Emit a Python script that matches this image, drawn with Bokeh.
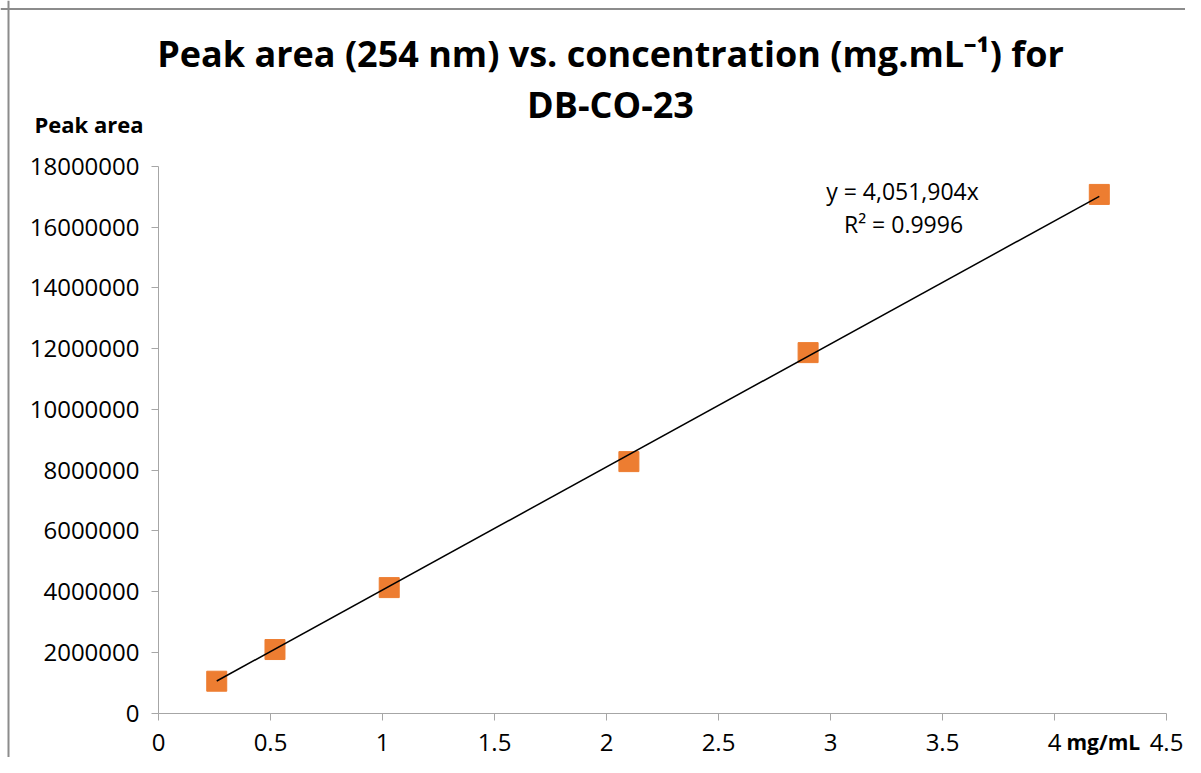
from bokeh.plotting import figure
from bokeh.models import Label, Range1d, FixedTicker, Span
from bokeh.embed import file_html
from bokeh.resources import INLINE

# data
conc = [0.26, 0.52, 1.03, 2.1, 2.9, 4.2]
area = [1047000, 2090000, 4130000, 8280000, 11870000, 17080000]
slope = 4051904
x_ticks = [0, 0.5, 1, 1.5, 2, 2.5, 3, 3.5, 4, 4.5]
y_ticks = [0, 2000000, 4000000, 6000000, 8000000, 10000000, 12000000, 14000000, 16000000, 18000000]
title1 = "Peak area (254 nm) vs. concentration (mg.mL\u207b\u00b9) for"
title2 = "DB-CO-23"
eq1 = "y = 4,051,904x"
eq2 = "R\u00b2 = 0.9996"

FONT = "Open Sans"
AXC = "#a6a6a6"

# layout in canvas pixels
W, H = 1185, 757
PX_L, PX_R = 158, 1166      # x = 0 and x = 4.5
PX_B, PX_T = 712.5, 166     # y = 0 and y = 18e6
XMIN, XMAX = x_ticks[0], x_ticks[-1]
YMIN, YMAX = y_ticks[0], y_ticks[-1]
sx = (PX_R - PX_L) / (XMAX - XMIN)
sy = (PX_B - PX_T) / (YMAX - YMIN)
x_range = Range1d(XMIN - PX_L / sx, XMAX + (W - PX_R) / sx)
y_range = Range1d(YMIN - (H - PX_B) / sy, YMAX + PX_T / sy)

p = figure(width=W, height=H, output_backend="svg", toolbar_location=None,
           x_range=x_range, y_range=y_range,
           min_border_left=0, min_border_right=0, min_border_top=0, min_border_bottom=0)
p.outline_line_color = None
p.xgrid.visible = False
p.ygrid.visible = False

# chart-area border (top and left edges visible in the reference)
p.add_layout(Span(location=YMIN + (PX_B - 8.5) / sy, dimension="width",
                  line_color="#8c8c8c", line_width=2))
p.add_layout(Span(location=XMIN + (8 - PX_L) / sx, dimension="height",
                  line_color="#8c8c8c", line_width=2))

for ax in (p.xaxis[0], p.yaxis[0]):
    ax.fixed_location = 0
    ax.axis_line_color = AXC
    ax.major_tick_line_color = AXC
    ax.minor_tick_line_color = None
    ax.major_tick_in = 0
    ax.major_tick_out = 7
    ax.major_label_text_font = FONT
    ax.major_label_text_font_size = "24px"
    ax.major_label_text_color = "#000000"

p.xaxis[0].bounds = (XMIN, XMAX)
p.yaxis[0].bounds = (YMIN, YMAX)
p.xaxis[0].ticker = FixedTicker(ticks=x_ticks)
p.yaxis[0].ticker = FixedTicker(ticks=y_ticks)
p.xaxis[0].major_label_standoff = 14
p.yaxis[0].major_label_standoff = 12
p.yaxis[0].formatter.use_scientific = False
p.xaxis[0].major_label_overrides = {0: "0", 1: "1", 2: "2", 3: "3", 4: "4"}

# trend line through origin, over data span
x0, x1 = min(conc), max(conc)
p.scatter(conc, area, marker="square", size=20, fill_color="#ED7D31", line_color="#ED7D31")
p.line([x0, x1], [slope * x0, slope * x1], line_color="#000000", line_width=1.5)

def lab(text, cx, base, size, bold=False, align="left"):
    # base: wanted baseline (canvas px from top); correct for label box offset
    y = H - (base - 0.45 * size)
    p.add_layout(Label(x=cx, y=y, x_units="screen", y_units="screen", text=text,
                       text_font=FONT, text_font_size=f"{size}px",
                       text_font_style="bold" if bold else "normal",
                       text_align=align, text_baseline="alphabetic",
                       text_color="#000000"))

lab(title1, 610, 69, 36, True, "center")
lab(title2, 610, 120, 36, True, "center")
lab("Peak area", 34, 133, 22, True)
lab("mg/mL", 1066, 751, 21, True)
lab(eq1, 902, 201, 23, False, "center")
lab(eq2, 903, 234, 23, False, "center")

open("out.html", "w").write(file_html(p, INLINE))
